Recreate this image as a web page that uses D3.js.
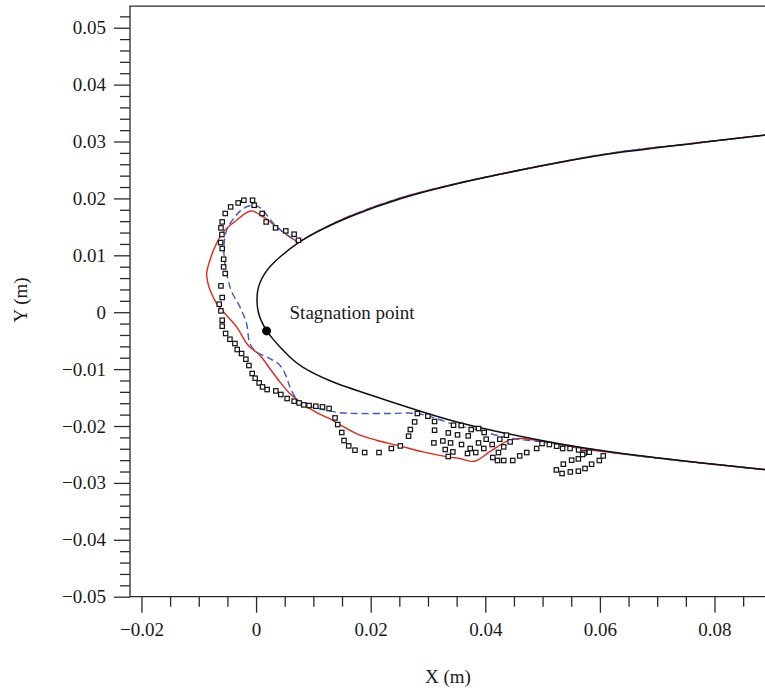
<!DOCTYPE html>
<html>
<head>
<meta charset="utf-8">
<script src="https://cdn.jsdelivr.net/npm/d3@7/dist/d3.min.js"></script>
<style>
  body { margin: 0; background: #fff; }
  text { font-family: "Liberation Serif", "Times New Roman", serif; fill: #1a1a1a; }
</style>
</head>
<body>
<svg id="chart" width="765" height="688"></svg>
<script>
// Axis ticks and labels
const xTickValues = [-0.02, 0, 0.02, 0.04, 0.06, 0.08];
const xTickLabels = ["\u22120.02", "0", "0.02", "0.04", "0.06", "0.08"];
const yTickValues = [-0.05, -0.04, -0.03, -0.02, -0.01, 0, 0.01, 0.02, 0.03, 0.04, 0.05];
const yTickLabels = ["\u22120.05", "\u22120.04", "\u22120.03", "\u22120.02", "\u22120.01", "0",
                     "0.01", "0.02", "0.03", "0.04", "0.05"];

// Clean airfoil, upper surface (aft to leading edge), X and Y in metres
const airfoilUpperX = [0.08986, 0.07732, 0.06338, 0.05293, 0.04247, 0.03376, 0.02505, 0.01634, 0.01111, 0.0074, 0.00415, 0.00258, 0.00145, 0.00068, 0.00022, 0.00012];
const airfoilUpperY = [0.03125, 0.02979, 0.02817, 0.02636, 0.02425, 0.02232, 0.02004, 0.01687, 0.01441, 0.01236, 0.00972, 0.00825, 0.00680, 0.00530, 0.00380, 0.00200];
// Clean airfoil, lower surface (leading edge to aft)
const airfoilLowerX = [0.00028, 0.00085, 0.00183, 0.00283, 0.00415, 0.00589, 0.00763, 0.01286, 0.02035, 0.02801, 0.03551, 0.04247, 0.05293, 0.06338, 0.07732, 0.08986];
const airfoilLowerY = [0.00020, -0.00150, -0.00329, -0.00462, -0.00610, -0.00790, -0.00950, -0.01221, -0.01467, -0.01722, -0.01951, -0.02109, -0.0232, -0.02483, -0.02645, -0.02777];

// Stagnation point on the clean surface
const stagnationX = 0.00183;
const stagnationY = -0.00329;

// Ice shape, red solid curve
const redIceX = [0.00733, 0.00589, 0.00357, 0.00124, -0.00091, -0.0034, -0.00573, -0.00718, -0.00805, -0.00862, -0.0084, -0.00787, -0.00688, -0.00544, -0.0034, -0.00138, 0.00066, 0.0024, 0.00415, 0.00589, 0.00821, 0.01059, 0.01286, 0.0143, 0.01751, 0.02099, 0.02505, 0.02911, 0.03347, 0.03551, 0.03812, 0.04073, 0.04392, 0.04596, 0.04887, 0.05235, 0.05641];
const redIceY = [0.01236, 0.01323, 0.01499, 0.01675, 0.0178, 0.01617, 0.01411, 0.01148, 0.00914, 0.0068, 0.0051, 0.00351, 0.00153, -0.00023, -0.00258, -0.0058, -0.00756, -0.00989, -0.01225, -0.01429, -0.01617, -0.01766, -0.01872, -0.01956, -0.02132, -0.0225, -0.0235, -0.02455, -0.02543, -0.02571, -0.02619, -0.02455, -0.02262, -0.0222, -0.0225, -0.02311, -0.0239];

// Ice shape, blue dashed curve
const blueIceX = [0.00733, 0.00589, 0.00357, 0.00211, 0.00096, -0.00051, -0.00225, -0.00369, -0.00514, -0.00561, -0.00544, -0.00486, -0.0043, -0.00282, -0.00166, -0.00108, 0.00009, 0.0024, 0.00415, 0.00531, 0.00589, 0.00706, 0.0088, 0.01169, 0.0146, 0.01751, 0.02331, 0.02796, 0.03145, 0.03493, 0.03899, 0.0416, 0.04456];
const blueIceY = [0.01236, 0.01327, 0.01499, 0.01675, 0.01822, 0.0188, 0.01822, 0.01675, 0.01441, 0.01148, 0.00856, 0.00562, 0.00369, 0.00093, -0.00199, -0.0055, -0.00698, -0.00814, -0.00931, -0.01137, -0.01313, -0.01517, -0.01634, -0.0171, -0.01766, -0.0178, -0.0178, -0.0178, -0.01868, -0.01986, -0.02074, -0.02153, -0.02214];

// Measured ice shape, hollow squares
const expX = [-0.00213, -0.00061, -0.00312, -0.00033, -0.00444, -0.00538, 0.00106, -0.00591, 0.00176, -0.00613, 0.0034, -0.00596, 0.00519, 0.00664, 0.0074, -0.00618, -0.00591, -0.00566, -0.00566, -0.00538, -0.00613, -0.00591,
  -0.00643, -0.00613, -0.00591, -0.00591, -0.00531, -0.00456, -0.00369, -0.00329, -0.00253, -0.00178, -0.00125, -0.00068, -0.00016, 0.00054, 0.00113, 0.00193, 0.00345, 0.00432, 0.00542, 0.00664, 0.00751, 0.00833, 0.00925, 0.01042, 0.01159, 0.01274,
  0.01378, 0.01425, 0.01495, 0.01535, 0.01617, 0.01726, 0.01895, 0.02145, 0.02361, 0.02517, 0.02662, 0.02692, 0.02767, 0.02814, 0.02998, 0.03115, 0.03115, 0.03103, 0.0326, 0.03354, 0.03394, 0.03446, 0.03301, 0.03434, 0.03354,
  0.0358, 0.03754, 0.03882, 0.03516, 0.03702, 0.03981, 0.03585, 0.03882, 0.04016, 0.0412, 0.04253, 0.04369, 0.04434, 0.03737, 0.03974, 0.03834, 0.0369, 0.04322, 0.0423, 0.04131, 0.04213, 0.04322, 0.04479, 0.04601, 0.04723, 0.04897,
  0.04991, 0.05118, 0.05246, 0.0535, 0.05479, 0.05629, 0.05728, 0.05815, 0.05699, 0.06059, 0.0599, 0.05855, 0.0574, 0.05624, 0.05484, 0.0534, 0.0524, 0.05362, 0.05507, 0.05624];
const expY = [0.01968, 0.01968, 0.01921, 0.0188, 0.01851, 0.01735, 0.01735, 0.01587, 0.01587, 0.01482, 0.01482, 0.01366, 0.01429, 0.01371, 0.01265, 0.01225, 0.01119, 0.00931, 0.00796, 0.0068, 0.00462, 0.00258,
  0.00141, 0.00023, -0.00141, -0.00246, -0.00374, -0.00475, -0.0055, -0.00656, -0.00726, -0.00826, -0.00937, -0.01077, -0.0116, -0.01243, -0.01313, -0.01359, -0.01383, -0.01446, -0.01517, -0.01564, -0.01594, -0.01629, -0.0164, -0.01652, -0.01664, -0.01692,
  -0.01858, -0.01974, -0.02114, -0.02255, -0.0235, -0.02425, -0.02466, -0.02466, -0.02395, -0.0235, -0.02179, -0.02062, -0.01928, -0.0178, -0.01828, -0.01921, -0.02074, -0.02297, -0.02262, -0.02121, -0.02297, -0.01986, -0.02413, -0.02455, -0.02536,
  -0.01991, -0.02062, -0.02044, -0.02156, -0.02174, -0.02114, -0.02325, -0.02297, -0.02232, -0.02325, -0.02232, -0.02162, -0.02279, -0.02395, -0.02395, -0.02466, -0.02483, -0.02367, -0.02466, -0.02554, -0.02606, -0.02606, -0.02606, -0.02525, -0.02466, -0.02395,
  -0.02308, -0.02325, -0.02355, -0.02395, -0.02395, -0.0242, -0.02473, -0.0246, -0.02501, -0.02525, -0.02606, -0.02671, -0.02747, -0.02794, -0.02807, -0.02835, -0.02772, -0.02671, -0.02601, -0.02578];

const svg = d3.select("#chart");

const x = d3.scaleLinear().domain([-0.022, 0.09]).range([130, 771.8]);
const y = d3.scaleLinear().domain([-0.05, 0.0538]).range([596.7, 6.1]);

const zip = (xs, ys) => xs.map((v, i) => [v, ys[i]]);
const airUpper = zip(airfoilUpperX, airfoilUpperY);
const airLower = zip(airfoilLowerX, airfoilLowerY);
const airfoil = airUpper.concat(airLower);

// Iced contours follow the clean surface aft of the ice
const redIce = zip(redIceX, redIceY);
const redPath = airUpper.filter(p => p[0] > redIce[0][0])
  .concat(redIce)
  .concat(airLower.filter(p => p[0] > redIce[redIce.length - 1][0]));
const blueIce = zip(blueIceX, blueIceY);
const bluePath = airUpper.filter(p => p[0] > blueIce[0][0])
  .concat(blueIce)
  .concat(airLower.filter(p => p[0] > blueIce[blueIce.length - 1][0]));

const line = d3.line().x(d => x(d[0])).y(d => y(d[1])).curve(d3.curveCatmullRom.alpha(0.5));
const smoothLine = d3.line().x(d => x(d[0])).y(d => y(d[1])).curve(d3.curveBasis);

// Axes
const axisColor = "#2a2a2a";
const yMinor = d3.range(-0.048, 0.0531, 0.002).filter(v => Math.abs(Math.round(v * 100) - v * 100) > 1e-6);
const xMinor = d3.range(-0.015, 0.0901, 0.005).filter(v => Math.abs(Math.round(v * 50) - v * 50) > 1e-6);

const gyMinor = svg.append("g").attr("transform", "translate(130,0)")
  .call(d3.axisLeft(y).tickValues(yMinor).tickSize(10).tickFormat(""));
const gy = svg.append("g").attr("transform", "translate(130,0)")
  .call(d3.axisLeft(y).tickValues(yTickValues).tickSize(16).tickPadding(8)
    .tickFormat((d, i) => yTickLabels[i]));
const gxMinor = svg.append("g").attr("transform", "translate(0,596.7)")
  .call(d3.axisBottom(x).tickValues(xMinor).tickSize(10).tickFormat(""));
const gx = svg.append("g").attr("transform", "translate(0,596.7)")
  .call(d3.axisBottom(x).tickValues(xTickValues).tickSize(16).tickPadding(10)
    .tickFormat((d, i) => xTickLabels[i]));

[gy, gyMinor, gx, gxMinor].forEach(g => {
  g.select(".domain").remove();
  g.selectAll("line").attr("stroke", axisColor).attr("stroke-width", 1.3);
  g.selectAll("text").attr("font-size", 19).style("fill", "#1a1a1a")
    .attr("font-family", "'Liberation Serif', serif");
});

// Frame
svg.append("path")
  .attr("d", `M${x.range()[1]},${y.range()[1]}H130V${y.range()[0]}H${x.range()[1]}`)
  .attr("fill", "none").attr("stroke", axisColor).attr("stroke-width", 1.3);

// Curves
svg.append("path").datum(redPath).attr("d", line)
  .attr("fill", "none").attr("stroke", "#e3261d").attr("stroke-width", 1.4);
svg.append("path").datum(bluePath).attr("d", line)
  .attr("fill", "none").attr("stroke", "#3a5cc0").attr("stroke-width", 1.4)
  .attr("stroke-dasharray", "7,4");
svg.append("path").datum(airfoil).attr("d", smoothLine)
  .attr("fill", "none").attr("stroke", "#111").attr("stroke-width", 1.5);

// Measured points
const sq = 4.4;
svg.append("g").selectAll("rect").data(zip(expX, expY)).join("rect")
  .attr("x", d => x(d[0]) - sq / 2).attr("y", d => y(d[1]) - sq / 2)
  .attr("width", sq).attr("height", sq)
  .attr("fill", "#fff").attr("stroke", "#111").attr("stroke-width", 1.2);

// Stagnation point
svg.append("circle").attr("cx", x(stagnationX)).attr("cy", y(stagnationY)).attr("r", 4.5).attr("fill", "#000");
svg.append("text").attr("x", x(stagnationX) + 23).attr("y", y(stagnationY) - 11.5)
  .attr("font-size", 19).text("Stagnation point");

// Axis titles
svg.append("text").attr("x", 448).attr("y", 683).attr("text-anchor", "middle")
  .attr("font-size", 19).text("X (m)");
svg.append("text").attr("transform", "translate(27,300) rotate(-90)").attr("text-anchor", "middle")
  .attr("font-size", 19).text("Y (m)");
</script>
</body>
</html>
